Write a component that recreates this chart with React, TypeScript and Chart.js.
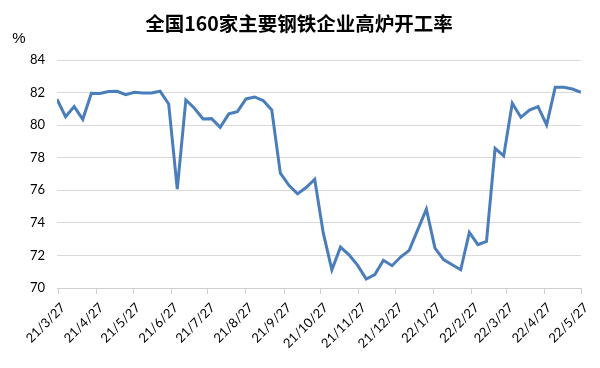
import React, { useEffect, useRef } from "react";
import { Chart, registerables } from "chart.js";

Chart.register(...registerables);

const TITLE = "全国160家主要钢铁企业高炉开工率";
const UNIT = "%";

const weekDates = [
  "2021-03-26", "2021-04-02", "2021-04-09", "2021-04-16", "2021-04-23", "2021-04-30",
  "2021-05-07", "2021-05-14", "2021-05-21", "2021-05-28", "2021-06-04", "2021-06-11",
  "2021-06-18", "2021-06-25", "2021-07-02", "2021-07-09", "2021-07-16", "2021-07-23",
  "2021-07-30", "2021-08-06", "2021-08-13", "2021-08-20", "2021-08-27", "2021-09-03",
  "2021-09-10", "2021-09-17", "2021-09-24", "2021-10-01", "2021-10-08", "2021-10-15",
  "2021-10-22", "2021-10-29", "2021-11-05", "2021-11-12", "2021-11-19", "2021-11-26",
  "2021-12-03", "2021-12-10", "2021-12-17", "2021-12-24", "2021-12-31", "2022-01-07",
  "2022-01-14", "2022-01-21", "2022-01-28", "2022-02-04", "2022-02-11", "2022-02-18",
  "2022-02-25", "2022-03-04", "2022-03-11", "2022-03-18", "2022-03-25", "2022-04-01",
  "2022-04-08", "2022-04-15", "2022-04-22", "2022-04-29", "2022-05-06", "2022-05-13",
  "2022-05-20", "2022-05-27",
];

const rates = [
  81.59, 80.52, 81.14, 80.36, 81.96, 81.94, 82.06, 82.08, 81.87, 82.02, 81.98, 81.98,
  82.08, 81.30, 76.07, 81.55, 81.04, 80.38, 80.40, 79.87, 80.69, 80.83, 81.61, 81.73,
  81.51, 80.93, 77.05, 76.30, 75.78, 76.17, 76.68, 73.37, 71.12, 72.51, 72.04, 71.39,
  70.55, 70.82, 71.70, 71.37, 71.90, 72.31, 73.58, 74.84, 72.45, 71.74, 71.43, 71.12,
  73.41, 72.66, 72.86, 78.58, 78.11, 81.34, 80.48, 80.93, 81.14, 80.01, 82.32, 82.32,
  82.22, 82.02,
];

const tickDates = [
  "2021-03-27", "2021-04-27", "2021-05-27", "2021-06-27", "2021-07-27", "2021-08-27",
  "2021-09-27", "2021-10-27", "2021-11-27", "2021-12-27", "2022-01-27", "2022-02-27",
  "2022-03-27", "2022-04-27", "2022-05-27",
];

const tickLabels = [
  "21/3/27", "21/4/27", "21/5/27", "21/6/27", "21/7/27", "21/8/27", "21/9/27",
  "21/10/27", "21/11/27", "21/12/27", "22/1/27", "22/2/27", "22/3/27", "22/4/27",
  "22/5/27",
];

const yMin = 70;
const yMax = 84;
const yStep = 2;

const BASE = Date.UTC(2021, 2, 27);
const dayOf = (s: string) => {
  const [y, m, d] = s.split("-").map(Number);
  return Math.round((Date.UTC(y, m - 1, d) - BASE) / 86400000);
};

const textPlugin = {
  id: "textPlugin",
  afterDraw(chart: any) {
    const ctx = chart.ctx;
    ctx.save();
    ctx.fillStyle = "#000";
    ctx.textAlign = "center";
    ctx.textBaseline = "middle";
    ctx.font = 'bold 19.5px "Noto Sans CJK SC"';
    ctx.fillText(TITLE, 299, 24);
    ctx.font = '15px "Liberation Sans"';
    ctx.fillText(UNIT, 19, 39);
    ctx.restore();
  },
};

export default function App() {
  const ref = useRef<HTMLCanvasElement>(null);

  useEffect(() => {
    if (!ref.current) return;
    const points = weekDates.map((d, i) => ({ x: dayOf(d), y: rates[i] }));
    const tickVals = tickDates.map(dayOf);
    const chart = new Chart(ref.current, {
      type: "line",
      data: {
        datasets: [
          {
            data: points,
            borderColor: "#4a7ebb",
            backgroundColor: "#4a7ebb",
            borderWidth: 3,
            pointRadius: 0,
            tension: 0,
            fill: false,
          },
        ],
      },
      options: {
        animation: false,
        responsive: false,
        layout: { padding: { top: 60, left: 8, right: 19, bottom: 0 } },
        plugins: {
          legend: { display: false },
          title: { display: false },
          tooltip: { enabled: false },
        },
        scales: {
          x: {
            type: "linear",
            min: dayOf(weekDates[0]),
            max: dayOf(weekDates[weekDates.length - 1]),
            afterBuildTicks(scale: any) {
              scale.ticks = tickVals.map((v) => ({ value: v }));
            },
            afterFit(scale: any) {
              scale.height = 80;
            },
            ticks: {
              autoSkip: false,
              minRotation: 45,
              maxRotation: 45,
              color: "#000",
              font: { family: "Lato", size: 13 },
              padding: 6,
              labelOffset: 5,
              callback: (_v: any, i: number) => tickLabels[i],
            },
            grid: {
              display: true,
              drawOnChartArea: false,
              drawTicks: true,
              tickLength: 6,
              color: "#d0d0d0",
            },
            border: { display: true, color: "#d0d0d0", width: 1 },
          },
          y: {
            min: yMin,
            max: yMax,
            afterFit(scale: any) {
              scale.width = 49;
            },
            ticks: {
              stepSize: yStep,
              color: "#000",
              font: { family: "Lato", size: 13 },
              padding: 12,
            },
            grid: { color: "#d9d9d9", drawTicks: false, lineWidth: 1 },
            border: { display: false },
          },
        },
      },
      plugins: [textPlugin],
    });
    return () => chart.destroy();
  }, []);

  return (
    <div style={{ position: "absolute", left: 0, top: 0, width: 600, height: 368, background: "#fff" }}>
      <canvas ref={ref} width={600} height={368} />
    </div>
  );
}
